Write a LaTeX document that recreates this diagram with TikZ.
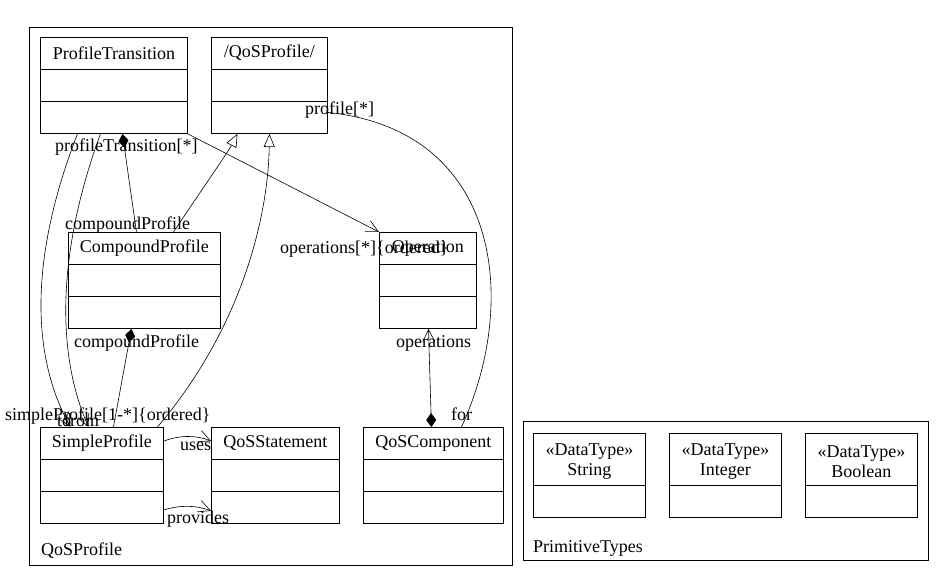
\documentclass[tikz,border=0pt]{standalone}
\usepackage{fontspec}
\setmainfont{Liberation Serif}
\usetikzlibrary{arrows.meta}

\tikzset{
  umlclass/.style={draw, line width=0.9pt, anchor=north west, inner sep=0pt},
  umlpkg/.style={draw, line width=0.9pt, anchor=north west, inner sep=0pt},
  rolelabel/.style={anchor=base west, inner sep=0pt},
  assoc/.style={line width=0.6pt},
  navarrow/.style={-{Straight Barb[length=12pt,width=12pt]}},
  composite/.style={{Diamond[length=14pt,width=10pt]}-},
  generalize/.style={-{Triangle[open,length=13pt,width=11pt]}}
}

\begin{document}
\begin{tikzpicture}[x=1pt,y=-1pt,font=\fontsize{18}{20.5}\selectfont]
  \useasboundingbox (0,0) rectangle (944,581);
  % packages
  \node[umlpkg, minimum width=483pt, minimum height=538pt] (qospkg) at (29,27) {};
  \node[rolelabel] (qospkg-l) at (41,555) {QoSProfile};
  \node[umlpkg, minimum width=405pt, minimum height=139pt] (primpkg) at (523,421) {};
  \node[rolelabel] (primpkg-l) at (533,552) {PrimitiveTypes};
  % classes
  \node[umlclass, minimum width=147pt, minimum height=96pt] (trans) at (40,37) {};
  \node[umlclass, minimum width=116pt, minimum height=96pt] (qos) at (211,37) {};
  \node[umlclass, minimum width=152pt, minimum height=96pt] (comp) at (68,232) {};
  \node[umlclass, minimum width=97pt, minimum height=96pt] (oper) at (379,232) {};
  \node[umlclass, minimum width=123pt, minimum height=96pt] (simple) at (40,427) {};
  \node[umlclass, minimum width=128pt, minimum height=96pt] (stat) at (211,427) {};
  \node[umlclass, minimum width=140pt, minimum height=96pt] (qcomp) at (363,427) {};
  \node (trans-t) at ([yshift=-16pt]trans.north) {ProfileTransition};
  \node (qos-t) at ([yshift=-16pt]qos.north) {/QoSProfile/};
  \node (comp-t) at ([yshift=-16pt]comp.north) {CompoundProfile};
  \node (oper-t) at ([yshift=-16pt]oper.north) {Operation};
  \node (simple-t) at ([yshift=-16pt]simple.north) {SimpleProfile};
  \node (stat-t) at ([yshift=-16pt]stat.north) {QoSStatement};
  \node (qcomp-t) at ([yshift=-16pt]qcomp.north) {QoSComponent};
  \foreach \c in {trans,qos,comp,oper,simple,stat,qcomp}
    \draw[line width=0.9pt] ([yshift=-32pt]\c.north west) -- ([yshift=-32pt]\c.north east)
      ([yshift=32pt]\c.south west) -- ([yshift=32pt]\c.south east);
  % data types
  \node[umlclass, minimum width=112pt, minimum height=84pt] (str) at (533,433) {};
  \node[umlclass, minimum width=112pt, minimum height=84pt] (int) at (669,433) {};
  \node[umlclass, minimum width=112pt, minimum height=84pt] (bool) at (805,433) {};
  \node[align=center] (str-t) at ([yshift=-28.5pt]str.north) {«DataType»\\String};
  \node[align=center] (int-t) at ([yshift=-28.5pt]int.north) {«DataType»\\Integer};
  \node[align=center] (bool-t) at ([yshift=-28.5pt]bool.north) {«DataType»\\Boolean};
  \foreach \c in {str,int,bool}
    \draw[line width=0.9pt] ([yshift=32pt]\c.south west) -- ([yshift=32pt]\c.south east);
  % associations
  \draw[assoc, navarrow] (trans.south east) -- (oper.north west);
  \draw[assoc, composite] ([xshift=8.5pt]trans.south) -- ([xshift=-8pt]comp.north);
  \draw[assoc, generalize] ([xshift=29pt]comp.north) .. controls (205,185) and (228,152) .. ([xshift=-32pt]qos.south);
  \draw[assoc, generalize] ([xshift=55.5pt]simple.north) .. controls (240,330) and (268,220) .. (qos.south);
  \draw[assoc, composite] ([xshift=-13pt]comp.south) -- ([xshift=11.5pt]simple.north);
  \draw[assoc, navarrow] ([xshift=-36.5pt]trans.south) .. controls (40,230) and (22,340) .. ([xshift=-31.5pt]simple.north);
  \draw[assoc, navarrow] ([xshift=-13.5pt]trans.south) .. controls (65,230) and (50,340) .. ([xshift=-13.5pt]simple.north);
  \draw[assoc, navarrow] ([yshift=-14pt]simple.north east) .. controls (180,435) and (196,435) .. ([yshift=-14pt]stat.north west);
  \draw[assoc, navarrow] ([yshift=14pt]simple.south east) .. controls (180,505) and (196,505) .. ([yshift=13pt]stat.south west);
  \draw[assoc, {Diamond[length=14pt,width=10pt]}-{Straight Barb[length=12pt,width=12pt]}] ([xshift=-2pt]qcomp.north) -- ([xshift=0.5pt]oper.south);
  \draw[assoc] ([xshift=28pt]qcomp.north) .. controls (520,300) and (500,130) .. ([yshift=-27pt]qos.east);
  % role names
  \node[rolelabel] (l-opers) at (280,253) {operations[*]\{ordered\}};
  \node[rolelabel] (l-trans) at (55,151) {profileTransition[*]};
  \node[rolelabel] (l-comp1) at (65,229) {compoundProfile};
  \node[rolelabel] (l-comp2) at (74,347) {compoundProfile};
  \node[rolelabel] (l-simple) at (5,420) {simpleProfile[1-*]\{ordered\}};
  \node[rolelabel] (l-to) at (57,426) {to};
  \node[rolelabel] (l-from) at (64,426) {from};
  \node[rolelabel] (l-ops) at (396,347) {operations};
  \node[rolelabel] (l-for) at (451,420) {for};
  \node[rolelabel] (l-prof) at (305,114) {profile[*]};
  \node[rolelabel] (l-uses) at (180,450) {uses};
  \node[rolelabel] (l-prov) at (167,523) {provides};
\end{tikzpicture}
\end{document}
